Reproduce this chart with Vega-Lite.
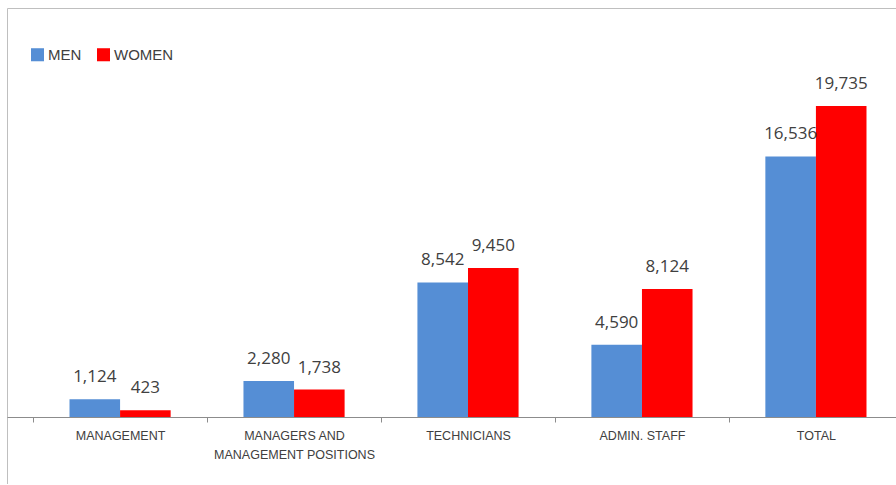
{
  "$schema": "https://vega.github.io/schema/vega-lite/v6.json",
  "width": 922,
  "height": 476,
  "autosize": {"type": "none"},
  "padding": {"left": 7, "top": 8, "right": 0, "bottom": 0},
  "background": "white",
  "config": {
    "view": {"stroke": "#bfbfbf", "strokeWidth": 1},
    "font": "Open Sans"
  },
  "data": {
    "values": [
      {"category": "MANAGEMENT", "sex": "MEN", "value": 1124},
      {"category": "MANAGEMENT", "sex": "WOMEN", "value": 423},
      {"category": "MANAGERS AND MANAGEMENT POSITIONS", "sex": "MEN", "value": 2280},
      {"category": "MANAGERS AND MANAGEMENT POSITIONS", "sex": "WOMEN", "value": 1738},
      {"category": "TECHNICIANS", "sex": "MEN", "value": 8542},
      {"category": "TECHNICIANS", "sex": "WOMEN", "value": 9450},
      {"category": "ADMIN. STAFF", "sex": "MEN", "value": 4590},
      {"category": "ADMIN. STAFF", "sex": "WOMEN", "value": 8124},
      {"category": "TOTAL", "sex": "MEN", "value": 16536},
      {"category": "TOTAL", "sex": "WOMEN", "value": 19735}
    ]
  },
  "encoding": {
    "x": {
      "field": "category",
      "type": "nominal",
      "sort": null,
      "title": null,
      "scale": {"paddingInner": 0, "paddingOuter": 0.15},
      "axis": {
        "offset": -67,
        "tickBand": "extent",
        "domainColor": "#8c8c8c",
        "tickColor": "#8c8c8c",
        "tickSize": 5,
        "labelAngle": 0,
        "labelFont": "Liberation Sans",
        "labelFontSize": 12.5,
        "labelColor": "#404040",
        "labelPadding": 7,
        "labelLineHeight": 19,
        "labelLimit": 200,
        "labelExpr": "datum.label == 'MANAGERS AND MANAGEMENT POSITIONS' ? ['MANAGERS AND', 'MANAGEMENT POSITIONS'] : datum.label"
      }
    },
    "xOffset": {
      "field": "sex",
      "type": "nominal",
      "scale": {"paddingInner": 0, "paddingOuter": 0.72}
    },
    "y": {
      "field": "value",
      "type": "quantitative",
      "scale": {"domain": [-4251, 25952], "nice": false, "zero": false},
      "axis": null
    }
  },
  "layer": [
    {
      "mark": {"type": "bar", "y2": 0},
      "encoding": {
        "y2": {"datum": 0},
        "color": {
          "field": "sex",
          "type": "nominal",
          "scale": {"domain": ["MEN", "WOMEN"], "range": ["#558ED5", "#FF0000"]},
          "legend": {
            "title": null,
            "orient": "none",
            "legendX": 23,
            "legendY": 39,
            "direction": "horizontal",
            "symbolType": "square",
            "symbolSize": 170,
            "symbolStrokeWidth": 0,
            "symbolOpacity": 1,
            "labelFont": "Liberation Sans",
            "labelFontSize": 15,
            "labelColor": "#404040",
            "labelOffset": 3,
            "columnPadding": 14
          }
        }
      }
    },
    {
      "mark": {"type": "text", "baseline": "alphabetic", "dy": -17, "fontSize": 17, "color": "#404040"},
      "encoding": {
        "text": {"field": "value", "type": "quantitative", "format": ","}
      }
    }
  ]
}
